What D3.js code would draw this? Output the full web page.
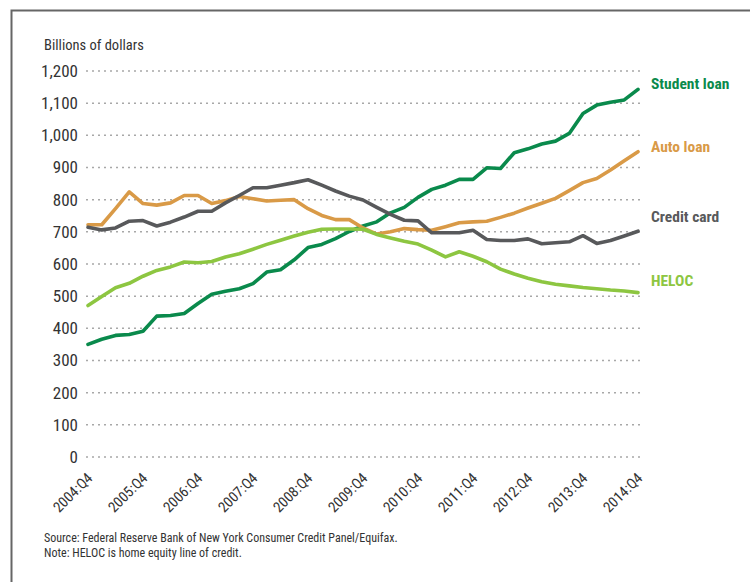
<!DOCTYPE html>
<html>
<head>
<meta charset="utf-8">
<script src="https://cdn.jsdelivr.net/npm/d3@7"></script>
<style>
  html, body { margin: 0; padding: 0; background: #fff; }
  svg { display: block; }
  .cond { font-family: 'Liberation Sans Narrow', 'Arial Narrow', 'Roboto Condensed', sans-serif; }
</style>
</head>
<body>
<svg id="chart" width="750" height="582"></svg>
<script>
const quarters = (function () {
  const q = [];
  for (let y = 2004; y <= 2014; y++) {
    for (let k = 1; k <= 4; k++) {
      if (y === 2004 && k < 4) continue;
      q.push(y + ":Q" + k);
    }
  }
  return q;
})();

const studentLoan = [350,366,378,381,391,438,440,446,477,506,515,523,539,575,582,613,651,661,679,701,718,731,759,776,807,832,845,863,863,899,897,946,958,973,982,1006,1068,1094,1103,1110,1143];
const autoLoan = [722,722,772,824,788,783,790,813,813,788,797,810,803,796,798,800,772,751,738,738,712,693,700,710,707,705,716,728,731,733,745,758,774,789,804,828,853,866,892,921,949];
const creditCard = [714,706,712,733,735,718,730,746,764,764,790,813,837,837,845,853,862,845,827,811,799,776,754,736,734,697,697,697,705,676,673,673,678,663,666,669,688,664,673,687,702];
const heloc = [471,499,526,540,562,580,591,606,604,608,622,632,646,661,674,687,699,708,709,709,708,692,681,671,662,643,622,638,624,607,584,569,556,545,537,532,527,523,519,516,511];

const seriesNames = ["Student loan", "Auto loan", "Credit card", "HELOC"];
const seriesColors = ["#0a8a4c", "#d99a47", "#58595b", "#8dc641"];
const yTicks = [0,100,200,300,400,500,600,700,800,900,1000,1100,1200];
const xTickLabels = ["2004:Q4","2005:Q4","2006:Q4","2007:Q4","2008:Q4","2009:Q4","2010:Q4","2011:Q4","2012:Q4","2013:Q4","2014:Q4"];
const yTitle = "Billions of dollars";
const sourceNote = ["Source: Federal Reserve Bank of New York Consumer Credit Panel/Equifax.", "Note: HELOC is home equity line of credit."];

const series = [studentLoan, autoLoan, creditCard, heloc];

const svg = d3.select("#chart");

// frame
svg.append("path")
  .attr("d", "M11.5,582 L11.5,10.5 L750,10.5")
  .attr("fill", "none").attr("stroke", "#666").attr("stroke-width", 2);

const x = d3.scalePoint().domain(quarters).range([88, 638]);
const y = d3.scaleLinear().domain([0, 1200]).range([457, 71]);

// gridlines
svg.append("g").selectAll("line").data(yTicks).join("line")
  .attr("x1", 86).attr("x2", 640)
  .attr("y1", d => y(d)).attr("y2", d => y(d))
  .attr("stroke", "#a8a8a8").attr("stroke-width", 1.5)
  .attr("stroke-dasharray", "2,4");

// y axis
const yAxis = svg.append("g").attr("class", "cond")
  .attr("transform", "translate(78,0)")
  .call(d3.axisLeft(y).tickValues(yTicks).tickSize(0).tickPadding(0).tickFormat(d3.format(",")));
yAxis.select(".domain").remove();
yAxis.selectAll("text").attr("fill", "#333").style("font-size", "17px").attr("font-family", null);

// y title
svg.append("text").attr("class", "cond")
  .attr("x", 44).attr("y", 50).attr("fill", "#333").style("font-size", "14.5px")
  .text(yTitle);

// x axis
const xAxis = svg.append("g").attr("class", "cond")
  .attr("transform", "translate(0,457)")
  .call(d3.axisBottom(x).tickValues(xTickLabels).tickSize(0));
xAxis.select(".domain").remove();
xAxis.selectAll("text")
  .attr("fill", "#333").style("font-size", "14.7px").attr("font-family", null)
  .attr("text-anchor", "end")
  .attr("dy", null).attr("y", 0)
  .attr("transform", "translate(5,22) rotate(-45)");

// lines
const line = d3.line().x((d, i) => x(quarters[i])).y(d => y(d));
svg.append("g").selectAll("path").data(series).join("path")
  .attr("d", d => line(d))
  .attr("fill", "none")
  .attr("stroke", (d, i) => seriesColors[i])
  .attr("stroke-width", 3.6)
  .attr("stroke-linejoin", "round")
  .attr("stroke-linecap", "round");

// series labels
const labelY = [84, 147, 217, 281];
svg.append("g").attr("class", "cond").selectAll("text").data(seriesNames).join("text")
  .attr("x", 651).attr("y", (d, i) => labelY[i]).attr("dy", "0.35em")
  .attr("fill", (d, i) => seriesColors[i])
  .style("font-size", "15.5px").style("font-weight", "bold")
  .text(d => d);

// source
svg.append("g").attr("class", "cond").selectAll("text").data(sourceNote).join("text")
  .attr("x", 44).attr("y", (d, i) => 542 + i * 15)
  .attr("fill", "#333").style("font-size", "12px")
  .text(d => d);
</script>
</body>
</html>
